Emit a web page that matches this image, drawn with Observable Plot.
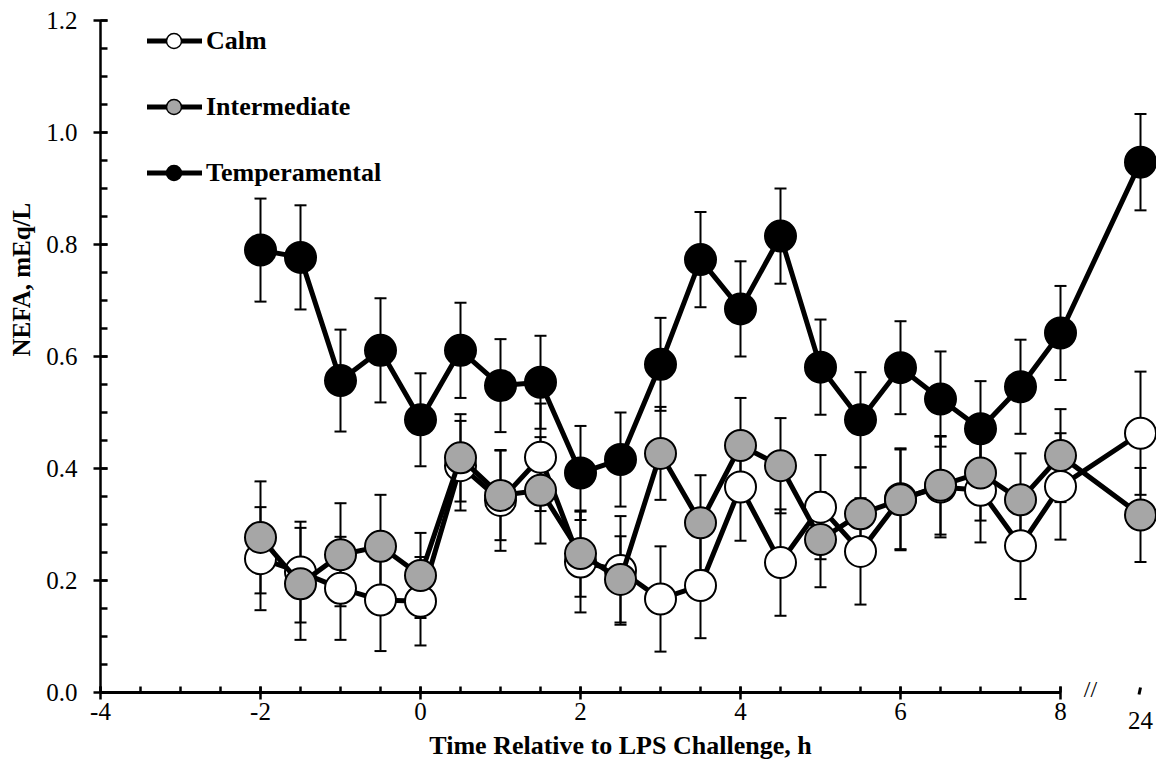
<!DOCTYPE html>
<html>
<head>
<meta charset="utf-8">
<script src="https://cdn.jsdelivr.net/npm/d3@7"></script>
<script src="https://cdn.jsdelivr.net/npm/@observablehq/plot@0.6"></script>
<style>
  html, body { margin: 0; padding: 0; background: #fff; }
  #wrap { position: relative; width: 1156px; height: 774px; font-family: "Liberation Serif", "Times New Roman", serif; }
  #legend { position: absolute; left: 0; top: 0; }
  .lg-row { position: absolute; left: 145px; height: 40px; display: flex; align-items: center; }
  .lg-row span { font-weight: bold; font-size: 26px; margin-left: 1px; line-height: 40px; }
</style>
</head>
<body>
<div id="wrap"><div id="legend"></div></div>
<script>
// ---- data ----
const times = [-2, -1.5, -1, -0.5, 0, 0.5, 1, 1.5, 2, 2.5, 3, 3.5, 4, 4.5, 5, 5.5, 6, 6.5, 7, 7.5, 8, 24];

const seriesNames = ["Calm", "Intermediate", "Temperamental"];
const seriesFill = ["#ffffff", "#a6a6a6", "#000000"];

const calmMean = [0.239, 0.215, 0.186, 0.165, 0.163, 0.405, 0.343, 0.420, 0.233, 0.218, 0.167, 0.191, 0.367, 0.232, 0.331, 0.252, 0.346, 0.367, 0.361, 0.262, 0.368, 0.463];
const calmSE   = [0.092, 0.090, 0.092, 0.091, 0.079, 0.080, 0.090, 0.096, 0.090, 0.097, 0.094, 0.094, 0.096, 0.095, 0.093, 0.095, 0.090, 0.090, 0.093, 0.095, 0.095, 0.110];

const interMean = [0.277, 0.194, 0.246, 0.261, 0.209, 0.419, 0.352, 0.361, 0.248, 0.202, 0.427, 0.303, 0.441, 0.405, 0.273, 0.319, 0.344, 0.370, 0.392, 0.344, 0.423, 0.317];
const interSE   = [0.100, 0.100, 0.092, 0.092, 0.076, 0.078, 0.080, 0.095, 0.077, 0.077, 0.083, 0.085, 0.085, 0.085, 0.085, 0.083, 0.090, 0.088, 0.085, 0.083, 0.083, 0.084];

const tempMean = [0.790, 0.777, 0.557, 0.611, 0.487, 0.611, 0.548, 0.554, 0.392, 0.416, 0.586, 0.773, 0.685, 0.815, 0.581, 0.487, 0.580, 0.524, 0.471, 0.546, 0.642, 0.947];
const tempSE   = [0.092, 0.093, 0.091, 0.093, 0.083, 0.085, 0.083, 0.083, 0.084, 0.084, 0.083, 0.085, 0.085, 0.085, 0.085, 0.085, 0.083, 0.085, 0.085, 0.084, 0.084, 0.086];

const xMajorTicks = [-4, -2, 0, 2, 4, 6, 8];
const yMajorTicks = [0, 0.2, 0.4, 0.6, 0.8, 1.0, 1.2];
const xTitle = "Time Relative to LPS Challenge, h";
const yTitle = "NEFA, mEq/L";

// broken axis: the 24 h sample sits one slot after 8 h
const breakTime = 24;
const breakSlot = 9;
const xPos = t => (t === breakTime ? breakSlot : t);

// ---- build table ----
const means = [calmMean, interMean, tempMean];
const ses = [calmSE, interSE, tempSE];
const rows = [];
seriesNames.forEach((name, i) => {
  times.forEach((t, j) => {
    rows.push({series: name, fill: seriesFill[i], t, pos: xPos(t), v: means[i][j], lo: means[i][j] - ses[i][j], hi: means[i][j] + ses[i][j]});
  });
});
const drawOrder = ["Temperamental", "Calm", "Intermediate"];

// custom line symbols for ticks and caps
const seg = (x1, y1, x2, y2) => ({draw(ctx) { ctx.moveTo(x1, y1); ctx.lineTo(x2, y2); }});
const capSym = seg(-6, 0, 6, 0);
const yMajorSym = seg(-7, 0, 7, 0);
const yMinorSym = seg(0, 0, 7, 0);
const xMajorSym = seg(0, -6, 0, 7);
const xMinorSym = seg(0, -6, 0, 0);
const breakSym = seg(0, -5, -1.5, 2);

const xMinor = d3.range(-4, 8.0001, 0.5);
const yMinor = d3.range(0, 1.2001, 0.05);

const marks = [];
// error bars
for (const s of drawOrder) {
  const d = rows.filter(r => r.series === s);
  marks.push(Plot.ruleX(d, {x: "pos", y1: "lo", y2: "hi", stroke: "black", strokeWidth: 2}));
  marks.push(Plot.dot(d, {x: "pos", y: "hi", symbol: capSym, stroke: "black", strokeWidth: 2, fill: "none"}));
  marks.push(Plot.dot(d, {x: "pos", y: "lo", symbol: capSym, stroke: "black", strokeWidth: 2, fill: "none"}));
}
// lines + markers
for (const s of drawOrder) {
  const d = rows.filter(r => r.series === s);
  marks.push(Plot.line(d, {x: "pos", y: "v", stroke: "black", strokeWidth: 5}));
  marks.push(Plot.dot(d, {x: "pos", y: "v", r: 15.5, fill: "fill", stroke: "black", strokeWidth: 2}));
}
// axes
marks.push(
  Plot.ruleY([0], {x1: -4, x2: 8, stroke: "black", strokeWidth: 3}),
  Plot.ruleX([-4], {y1: 0, y2: 1.2, stroke: "black", strokeWidth: 2.5}),
  Plot.dot(xMinor, {x: d => d, y: 0, symbol: xMinorSym, stroke: "black", strokeWidth: 2.5, fill: "none"}),
  Plot.dot(xMajorTicks, {x: d => d, y: 0, symbol: xMajorSym, stroke: "black", strokeWidth: 2.5, fill: "none"}),
  Plot.dot([breakTime], {x: xPos, y: 0, symbol: breakSym, stroke: "black", strokeWidth: 3, fill: "none"}),
  Plot.dot(yMinor, {x: -4, y: d => d, symbol: yMinorSym, stroke: "black", strokeWidth: 2.5, fill: "none"}),
  Plot.dot(yMajorTicks, {x: -4, y: d => d, symbol: yMajorSym, stroke: "black", strokeWidth: 2.5, fill: "none"}),
  Plot.text(yMajorTicks, {y: d => d, frameAnchor: "left", dx: -23, textAnchor: "end", text: d => d.toFixed(1), fontSize: 25, fill: "black"}),
  Plot.text(xMajorTicks, {x: d => d, frameAnchor: "bottom", lineAnchor: "top", dy: 10, text: d => String(d), fontSize: 25, fill: "black"}),
  Plot.text([breakTime], {x: xPos, frameAnchor: "bottom", lineAnchor: "top", dy: 19, text: d => String(d), fontSize: 25, fill: "black"}),
  Plot.text(["//"], {x: (8 + breakSlot) / 2, frameAnchor: "bottom", lineAnchor: "middle", dx: -10, dy: -3, text: d => d, fontSize: 24, fill: "black"}),
  Plot.text([xTitle], {frameAnchor: "bottom", lineAnchor: "bottom", dx: -8, dy: 61, text: d => d, fontSize: 26, fontWeight: "bold", fill: "black"}),
  Plot.text([yTitle], {frameAnchor: "left", lineAnchor: "bottom", rotate: -90, dx: -71, text: d => d, fontSize: 25, fontWeight: "bold", fill: "black"})
);

const chart = Plot.plot({
  width: 1156,
  height: 774,
  marginLeft: 100,
  marginRight: 0,
  marginTop: 20,
  marginBottom: 82,
  x: {domain: [-4, 9.2], axis: null},
  y: {domain: [0, 1.2], axis: null},
  style: {fontFamily: '"Liberation Serif", "Times New Roman", serif', background: "white", color: "black", overflow: "visible"},
  marks
});
const wrap = document.getElementById("wrap");
wrap.insertBefore(chart, wrap.firstChild);

// legend (overlaid at top-left of the plot area)
const legend = document.getElementById("legend");
const legendOrder = ["Calm", "Intermediate", "Temperamental"];
legendOrder.forEach((name, i) => {
  const fill = seriesFill[seriesNames.indexOf(name)];
  const row = document.createElement("div");
  row.className = "lg-row";
  row.style.top = (21 + i * 66) + "px";
  row.innerHTML = `<svg width="60" height="40"><line x1="2" y1="20" x2="57" y2="20" stroke="black" stroke-width="5"/><circle cx="29" cy="20" r="7.5" fill="${fill}" stroke="black" stroke-width="1.5"/></svg><span>${name}</span>`;
  legend.appendChild(row);
});
</script>
</body>
</html>
